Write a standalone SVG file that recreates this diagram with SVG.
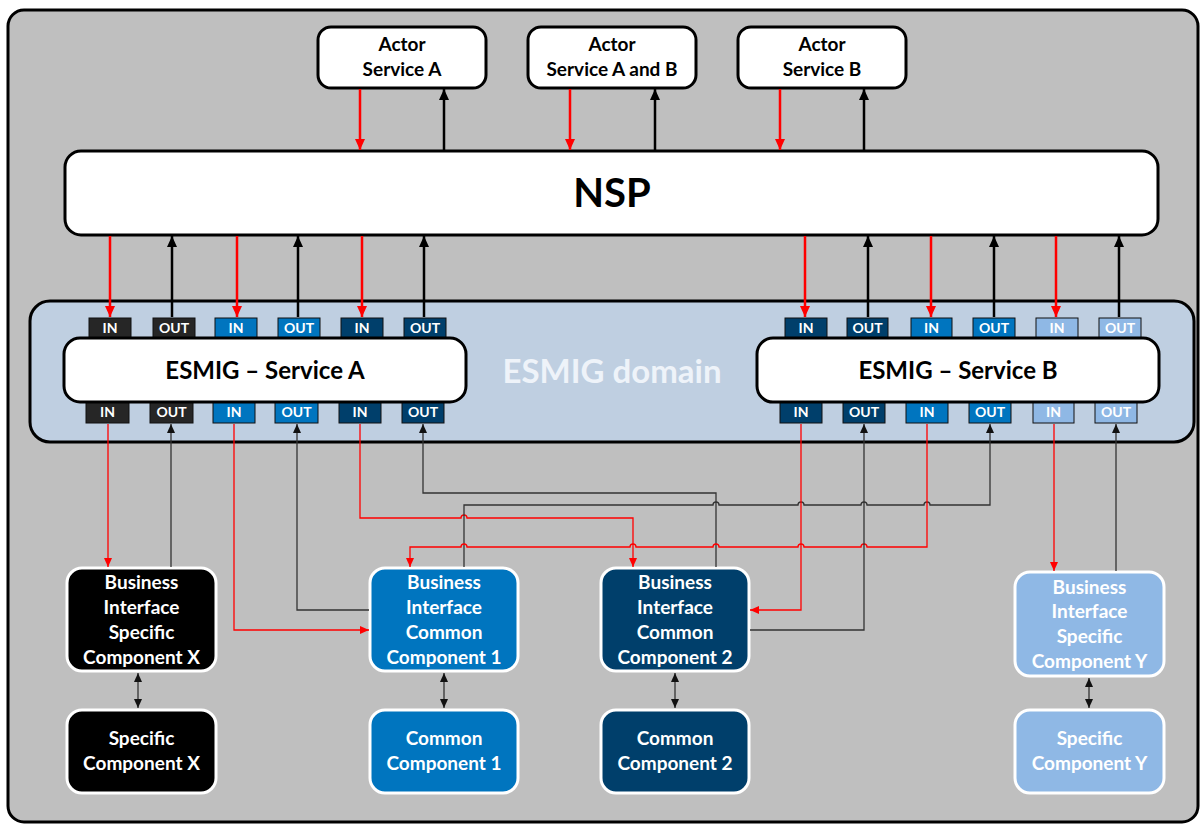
<svg xmlns="http://www.w3.org/2000/svg" width="1201" height="825" viewBox="0 0 1201 825">
<style>
text{font-family:Lato,"Liberation Sans",sans-serif;font-weight:700;text-anchor:middle}
.wbox{fill:#fff;stroke:#000;stroke-width:3}
.lbl{font-size:19px;fill:#000}
.clbl{font-size:19px;fill:#fff}
.comp{stroke:#fff;stroke-width:3}
.pt{stroke:#111;stroke-width:1}
.ptl{font-size:14px;fill:#fff}
.k{fill:#262626}.b{fill:#0075bf}.n{fill:#003f6b}.l{fill:#8fb8e5}
.tr{stroke:#f00;stroke-width:2.5;fill:none}
.tk{stroke:#000;stroke-width:2.5;fill:none}
.sr{stroke:#f00;stroke-width:1.3;fill:none}
.sk{stroke:#333;stroke-width:1.3;fill:none}
</style>
<defs>
<marker id="ar" markerUnits="userSpaceOnUse" markerWidth="12" markerHeight="10" refX="11" refY="5" orient="auto"><path d="M0,0 L11,5 L0,10 z" fill="#f00"/></marker>
<marker id="ak" markerUnits="userSpaceOnUse" markerWidth="12" markerHeight="10" refX="11" refY="5" orient="auto"><path d="M0,0 L11,5 L0,10 z" fill="#000"/></marker>
<marker id="sr" markerUnits="userSpaceOnUse" markerWidth="10" markerHeight="8" refX="9" refY="4" orient="auto"><path d="M0,0 L9,4 L0,8 z" fill="#f00"/></marker>
<marker id="sk" markerUnits="userSpaceOnUse" markerWidth="10" markerHeight="8" refX="9" refY="4" orient="auto"><path d="M0,0 L9,4 L0,8 z" fill="#111"/></marker>
<marker id="sks" markerUnits="userSpaceOnUse" markerWidth="10" markerHeight="8" refX="0" refY="4" orient="auto"><path d="M9,0 L0,4 L9,8 z" fill="#111"/></marker>
</defs>
<rect x="8" y="10" width="1190" height="812" rx="16" fill="#bfbfbf" stroke="#000" stroke-width="3"/>

<g id="actor-a"><rect class="wbox" x="318" y="27" width="168" height="61" rx="13"/><text class="lbl" x="402" y="51">Actor</text><text class="lbl" x="402" y="76">Service A</text></g>
<g id="actor-ab"><rect class="wbox" x="528" y="27" width="168" height="61" rx="13"/><text class="lbl" x="612" y="51">Actor</text><text class="lbl" x="612" y="76">Service A and B</text></g>
<g id="actor-b"><rect class="wbox" x="738" y="27" width="168" height="61" rx="13"/><text class="lbl" x="822" y="51">Actor</text><text class="lbl" x="822" y="76">Service B</text></g>

<g id="nsp"><rect class="wbox" x="65" y="151" width="1093" height="84" rx="16"/><text x="612" y="207" font-size="40">NSP</text></g>

<g id="esmig-domain"><rect x="30" y="301" width="1164" height="141" rx="20" fill="#bfcfe1" stroke="#000" stroke-width="3"/><text x="612" y="383" font-size="33" fill="#eef3f9">ESMIG domain</text></g>

<g id="ports-a-top">
<rect class="pt k" x="89" y="318" width="42" height="22"/><text class="ptl" x="110" y="333">IN</text>
<rect class="pt k" x="153" y="318" width="42" height="22"/><text class="ptl" x="174" y="333">OUT</text>
<rect class="pt b" x="215" y="318" width="42" height="22"/><text class="ptl" x="236" y="333">IN</text>
<rect class="pt b" x="278" y="318" width="42" height="22"/><text class="ptl" x="299" y="333">OUT</text>
<rect class="pt n" x="341" y="318" width="42" height="22"/><text class="ptl" x="362" y="333">IN</text>
<rect class="pt n" x="404" y="318" width="42" height="22"/><text class="ptl" x="425" y="333">OUT</text>
</g>
<g id="ports-a-bottom">
<rect class="pt k" x="86" y="401" width="43" height="22"/><text class="ptl" x="107.5" y="417">IN</text>
<rect class="pt k" x="150" y="401" width="43" height="22"/><text class="ptl" x="171.5" y="417">OUT</text>
<rect class="pt b" x="213" y="401" width="42" height="22"/><text class="ptl" x="234" y="417">IN</text>
<rect class="pt b" x="275" y="401" width="43" height="22"/><text class="ptl" x="296.5" y="417">OUT</text>
<rect class="pt n" x="339" y="401" width="42" height="22"/><text class="ptl" x="360" y="417">IN</text>
<rect class="pt n" x="402" y="401" width="42" height="22"/><text class="ptl" x="423" y="417">OUT</text>
</g>
<g id="ports-b-top">
<rect class="pt n" x="785" y="318" width="42" height="22"/><text class="ptl" x="806" y="333">IN</text>
<rect class="pt n" x="847" y="318" width="41" height="22"/><text class="ptl" x="867.5" y="333">OUT</text>
<rect class="pt b" x="911" y="318" width="41" height="22"/><text class="ptl" x="931.5" y="333">IN</text>
<rect class="pt b" x="973" y="318" width="42" height="22"/><text class="ptl" x="994" y="333">OUT</text>
<rect class="pt l" x="1036" y="318" width="42" height="22"/><text class="ptl" x="1057" y="333">IN</text>
<rect class="pt l" x="1099" y="318" width="42" height="22"/><text class="ptl" x="1120" y="333">OUT</text>
</g>
<g id="ports-b-bottom">
<rect class="pt n" x="780" y="401" width="42" height="22"/><text class="ptl" x="801" y="417">IN</text>
<rect class="pt n" x="843" y="401" width="42" height="22"/><text class="ptl" x="864" y="417">OUT</text>
<rect class="pt b" x="906" y="401" width="42" height="22"/><text class="ptl" x="927" y="417">IN</text>
<rect class="pt b" x="969" y="401" width="42" height="22"/><text class="ptl" x="990" y="417">OUT</text>
<rect class="pt l" x="1033" y="401" width="41" height="22"/><text class="ptl" x="1053.5" y="417">IN</text>
<rect class="pt l" x="1095" y="401" width="42" height="22"/><text class="ptl" x="1116" y="417">OUT</text>
</g>

<g id="esmig-a"><rect class="wbox" x="64" y="338" width="402" height="64" rx="16"/><text x="265" y="379" font-size="24">ESMIG – Service A</text></g>
<g id="esmig-b"><rect class="wbox" x="757" y="338" width="402" height="64" rx="16"/><text x="958" y="379" font-size="24">ESMIG – Service B</text></g>

<g id="bi-x"><rect class="comp" x="67" y="568" width="149" height="103" rx="15" fill="#000"/><text class="clbl" x="141.5" y="589">Business</text><text class="clbl" x="141.5" y="614">Interface</text><text class="clbl" x="141.5" y="639">Specific</text><text class="clbl" x="141.5" y="664">Component X</text></g>
<g id="comp-x"><rect class="comp" x="67" y="710" width="149" height="83" rx="15" fill="#000"/><text class="clbl" x="141.5" y="745">Specific</text><text class="clbl" x="141.5" y="770">Component X</text></g>
<g id="bi-c1"><rect class="comp" x="370" y="568" width="148" height="103" rx="15" fill="#0075bf"/><text class="clbl" x="444" y="589">Business</text><text class="clbl" x="444" y="614">Interface</text><text class="clbl" x="444" y="639">Common</text><text class="clbl" x="444" y="664">Component 1</text></g>
<g id="comp-c1"><rect class="comp" x="370" y="710" width="148" height="83" rx="15" fill="#0075bf"/><text class="clbl" x="444" y="745">Common</text><text class="clbl" x="444" y="770">Component 1</text></g>
<g id="bi-c2"><rect class="comp" x="601" y="568" width="148" height="103" rx="15" fill="#003f6b"/><text class="clbl" x="675" y="589">Business</text><text class="clbl" x="675" y="614">Interface</text><text class="clbl" x="675" y="639">Common</text><text class="clbl" x="675" y="664">Component 2</text></g>
<g id="comp-c2"><rect class="comp" x="601" y="710" width="148" height="83" rx="15" fill="#003f6b"/><text class="clbl" x="675" y="745">Common</text><text class="clbl" x="675" y="770">Component 2</text></g>
<g id="bi-y"><rect class="comp" x="1015" y="572" width="149" height="104" rx="15" fill="#8fb8e5"/><text class="clbl" x="1089.5" y="594">Business</text><text class="clbl" x="1089.5" y="618">Interface</text><text class="clbl" x="1089.5" y="643">Specific</text><text class="clbl" x="1089.5" y="668">Component Y</text></g>
<g id="comp-y"><rect class="comp" x="1015" y="710" width="149" height="83" rx="15" fill="#8fb8e5"/><text class="clbl" x="1089.5" y="745">Specific</text><text class="clbl" x="1089.5" y="770">Component Y</text></g>

<g id="connectors">
<path class="tr" d="M360,89 V150" marker-end="url(#ar)"/>
<path class="tk" d="M444,150 V89" marker-end="url(#ak)"/>
<path class="tr" d="M570,89 V150" marker-end="url(#ar)"/>
<path class="tk" d="M655,150 V89" marker-end="url(#ak)"/>
<path class="tr" d="M780,89 V150" marker-end="url(#ar)"/>
<path class="tk" d="M864,150 V89" marker-end="url(#ak)"/>

<path class="tr" d="M110,236 V317" marker-end="url(#ar)"/>
<path class="tk" d="M172,317 V236" marker-end="url(#ak)"/>
<path class="tr" d="M237,236 V317" marker-end="url(#ar)"/>
<path class="tk" d="M298,317 V236" marker-end="url(#ak)"/>
<path class="tr" d="M362,236 V317" marker-end="url(#ar)"/>
<path class="tk" d="M424,317 V236" marker-end="url(#ak)"/>
<path class="tr" d="M805,236 V317" marker-end="url(#ar)"/>
<path class="tk" d="M868,317 V236" marker-end="url(#ak)"/>
<path class="tr" d="M931,236 V317" marker-end="url(#ar)"/>
<path class="tk" d="M994,317 V236" marker-end="url(#ak)"/>
<path class="tr" d="M1056,236 V317" marker-end="url(#ar)"/>
<path class="tk" d="M1119,317 V236" marker-end="url(#ak)"/>

<path class="sr" d="M108,424 V567" marker-end="url(#sr)"/>
<path class="sk" d="M171,567 V424" marker-end="url(#sk)"/>
<path class="sr" d="M234,424 V630 H369" marker-end="url(#sr)"/>
<path class="sk" d="M369,610 H297 V424" marker-end="url(#sk)"/>
<path class="sr" d="M360,424 V518 H461 a3,3 0 0 1 6,0 H633 V567" marker-end="url(#sr)"/>
<path class="sk" d="M716,567 V493 H423 V424" marker-end="url(#sk)"/>
<path class="sk" d="M464,567 V505 H713 a3,3 0 0 1 6,0 H798 a3,3 0 0 1 6,0 H861 a3,3 0 0 1 6,0 H924 a3,3 0 0 1 6,0 H990 V424" marker-end="url(#sk)"/>
<path class="sr" d="M927,424 V547 H867 a3,3 0 0 0 -6,0 H804 a3,3 0 0 0 -6,0 H719 a3,3 0 0 0 -6,0 H636 a3,3 0 0 0 -6,0 H467 a3,3 0 0 0 -6,0 H410 V567" marker-end="url(#sr)"/>
<path class="sr" d="M801,424 V610 H750" marker-end="url(#sr)"/>
<path class="sk" d="M750,630 H864 V424" marker-end="url(#sk)"/>
<path class="sr" d="M1054,424 V571" marker-end="url(#sr)"/>
<path class="sk" d="M1116,571 V424" marker-end="url(#sk)"/>

<path class="sk" stroke-width="1.5" d="M138,673 V708" marker-start="url(#sks)" marker-end="url(#sk)"/>
<path class="sk" stroke-width="1.5" d="M444,673 V708" marker-start="url(#sks)" marker-end="url(#sk)"/>
<path class="sk" stroke-width="1.5" d="M675,673 V708" marker-start="url(#sks)" marker-end="url(#sk)"/>
<path class="sk" stroke-width="1.5" d="M1089,678 V708" marker-start="url(#sks)" marker-end="url(#sk)"/>
</g>
</svg>
